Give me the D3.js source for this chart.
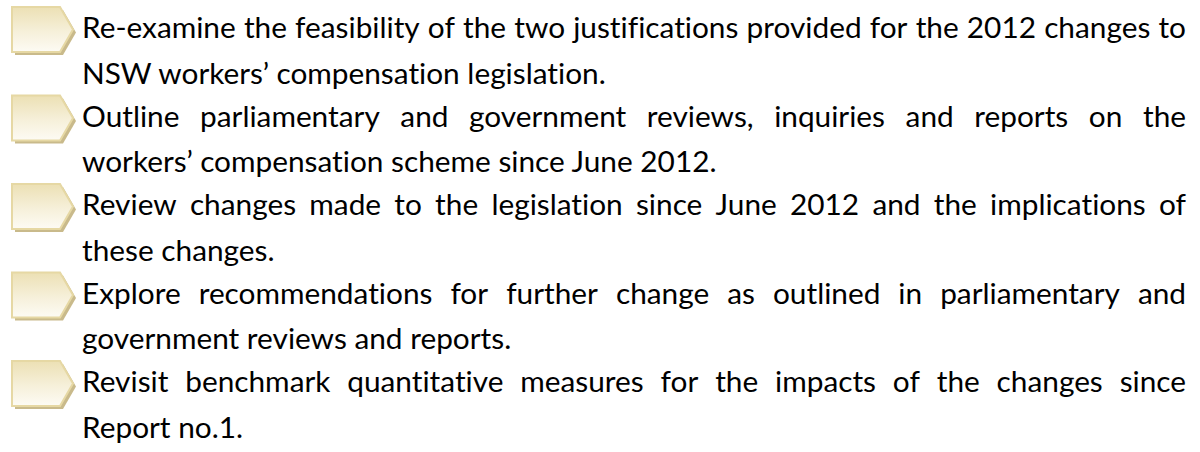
<!DOCTYPE html>
<html lang="en">
<head>
<meta charset="UTF-8">
<style>
body{
	margin: 0;
	background-color: white;
}
svg text{
	font-family: Lato, "Liberation Sans", sans-serif;
	font-variant-ligatures: none;
	fill: #000;
}
</style>
<script src="https://d3js.org/d3.v7.min.js"></script>
</head>
<body>
<svg width="1200" height="452"></svg>
<script>
// first lines (justified) and last lines (left aligned) of each item
const firstLines = [
	"Re-examine the feasibility of the two justifications provided for the 2012 changes to",
	"Outline parliamentary and government reviews, inquiries and reports on the",
	"Review changes made to the legislation since June 2012 and the implications of",
	"Explore recommendations for further change as outlined in parliamentary and",
	"Revisit benchmark quantitative measures for the impacts of the changes since"
]
const lastLines = [
	"NSW workers\u2019 compensation legislation.",
	"workers\u2019 compensation scheme since June 2012.",
	"these changes.",
	"government reviews and reports.",
	"Report no.1."
]

const svg = d3.select("svg")
const fontSize = 29.8
const textLeft = 82, textRight = 1186

// item index -> top of the item
const y = d3.scaleLinear()
	.domain([0, firstLines.length - 1])
	.range([0, 354])

const lineGap = 45.5

let defs = svg.append("defs")
let grad = defs.append("linearGradient")
	.attr("id", "chev")
	.attr("x1", 0).attr("y1", 0).attr("x2", 0).attr("y2", 1)
grad.append("stop").attr("offset", "0%").attr("stop-color", "#ece0b4")
grad.append("stop").attr("offset", "55%").attr("stop-color", "#f6f0da")
grad.append("stop").attr("offset", "100%").attr("stop-color", "#fdfbf4")

// chevron: x 12..73, height 45
function chevron(dx, dy) {
	return "M" + (12 + dx) + "," + (7 + dy) +
		" L" + (60 + dx) + "," + (7 + dy) +
		" L" + (73 + dx) + "," + (29.5 + dy) +
		" L" + (60 + dx) + "," + (52 + dy) +
		" L" + (12 + dx) + "," + (52 + dy) + " Z"
}

let items = svg.selectAll(".item")
	.data(firstLines)
	.join("g")
	.attr("class", "item")
	.attr("transform", function(d, i) { return "translate(0," + y(i) + ")" })

items.append("path")
	.attr("d", chevron(3, 3))
	.attr("fill", "#c9ba8b")

items.append("path")
	.attr("d", chevron(0, 0))
	.attr("fill", "url(#chev)")
	.attr("stroke", "#e6d8a4")
	.attr("stroke-width", 2)
	.attr("stroke-linejoin", "miter")

// justified first line: place each word
items.each(function(d, i) {
	let g = d3.select(this)
	let words = d.split(" ")
	let tmp = g.append("text").attr("font-size", fontSize)
	let widths = words.map(function(w) {
		tmp.text(w)
		return tmp.node().getComputedTextLength()
	})
	tmp.remove()
	let total = d3.sum(widths)
	let gap = (textRight - textLeft - total) / (words.length - 1)
	let x = textLeft
	words.forEach(function(w, k) {
		g.append("text")
			.attr("font-size", fontSize)
			.attr("x", x)
			.attr("y", 38)
			.text(w)
		x += widths[k] + gap
	})
	g.append("text")
		.attr("font-size", fontSize)
		.attr("x", textLeft)
		.attr("y", 38 + lineGap)
		.text(lastLines[i])
})
</script>
</body>
</html>
